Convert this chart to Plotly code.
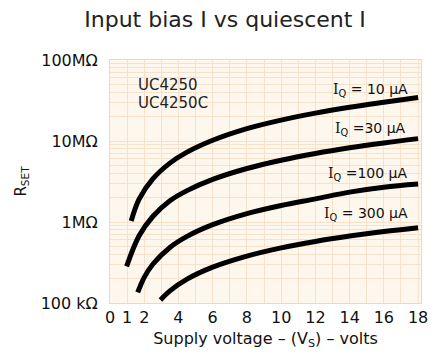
import math
import plotly.graph_objects as go

# Supply voltage (V) and R_SET (ohms) along each quiescent-current curve
v_10ua = [1.24, 1.7, 2.5, 3.5, 4.5, 6, 8, 10, 12, 14, 16, 18]
r_10ua = [1.03e6, 1.91e6, 3.40e6, 5.33e6, 7.28e6, 10.2e6, 14.2e6, 18.1e6, 22.1e6, 26.1e6, 30.1e6, 34.4e6]

v_30ua = [0.97, 1.7, 2.5, 3.5, 4.5, 6, 8, 10, 12, 14, 16, 18]
r_30ua = [283e3, 676e3, 1.17e6, 1.83e6, 2.44e6, 3.36e6, 4.58e6, 5.79e6, 7.01e6, 8.24e6, 9.46e6, 10.7e6]

v_100ua = [1.62, 2, 2.5, 3.5, 4.5, 6, 8, 10, 12, 14, 16, 18]
r_100ua = [135e3, 207e3, 301e3, 485e3, 664e3, 927e3, 1.27e6, 1.60e6, 1.93e6, 2.34e6, 2.69e6, 2.94e6]

v_300ua = [2.95, 3.5, 4.5, 6, 8, 10, 12, 14, 16, 18]
r_300ua = [109e3, 141e3, 197e3, 277e3, 379e3, 479e3, 575e3, 670e3, 764e3, 851e3]

serif_i = "<span style='font-family:DejaVu Serif'>I</span><sub>Q</sub>"
curve_labels = [serif_i + " = 10 µA", serif_i + " =30 µA", serif_i + " =100 µA", serif_i + " = 300 µA"]
label_v = [17.53, 17.43, 17.5, 17.5]
label_r = [42.7e6, 14.2e6, 3.92e6, 1.25e6]

part_lines = ["UC4250", "UC4250C"]
part_r = [49.5e6, 29.5e6]

x_ticks = [0, 1, 2, 4, 6, 8, 10, 12, 14, 16, 18]
y_ticks = [1e5, 1e6, 1e7, 1e8]
y_tick_text = ["100 kΩ", "1MΩ", "10MΩ", "100MΩ"]

series = [(v_10ua, r_10ua), (v_30ua, r_30ua), (v_100ua, r_100ua), (v_300ua, r_300ua)]

label_font = "DejaVu Sans"
grid_col = "#f6e2cb"

fig = go.Figure()
for (vs, rs) in series:
    fig.add_trace(go.Scatter(
        x=vs, y=rs, mode="lines",
        line=dict(color="black", width=5, shape="spline", smoothing=1.0),
        showlegend=False, hoverinfo="skip",
    ))

# annotation positions on a log axis are given in log10 units
for text, v, r in zip(curve_labels, label_v, label_r):
    fig.add_annotation(x=v, y=math.log10(r), xref="x", yref="y", text=text, showarrow=False,
                       xanchor="right", yanchor="middle",
                       font=dict(family=label_font, size=14, color="#111"))

for text, r in zip(part_lines, part_r):
    fig.add_annotation(x=1.5, y=math.log10(r), xref="x", yref="y",
                       text=text, showarrow=False, xanchor="left", yanchor="middle",
                       font=dict(family=label_font, size=15, color="#222"))

fig.update_layout(
    width=437, height=354,
    margin=dict(l=110, r=9, t=60, b=51),
    paper_bgcolor="white",
    plot_bgcolor="#fdf7ee",
    title=dict(text="Input bias I vs quiescent I", x=0.515, xanchor="center",
               y=0.945, yanchor="middle",
               font=dict(family="DejaVu Sans", size=22, color="#222")),
    font=dict(family=label_font, color="#111"),
)

fig.update_xaxes(
    range=[0, 18.17], tickvals=x_ticks, ticktext=[str(t) for t in x_ticks],
    showgrid=True, gridcolor=grid_col, gridwidth=1, zeroline=False,
    minor=dict(dtick=1, showgrid=True, gridcolor=grid_col),
    tickfont=dict(family=label_font, size=16, color="#111"),
    ticks="", showline=True, linecolor="#f2d7b8", mirror=True,
    title=dict(text="Supply voltage – (V<sub>S</sub>) – volts", standoff=6,
               font=dict(family=label_font, size=16, color="#111")),
)

fig.update_yaxes(
    type="log", range=[5, 8], tickvals=y_ticks, ticktext=y_tick_text,
    showgrid=True, gridcolor=grid_col, gridwidth=1, zeroline=False,
    minor=dict(dtick="D1", showgrid=True, gridcolor=grid_col),
    tickfont=dict(family=label_font, size=16, color="#111"),
    ticks="", ticklabelstandoff=8, showline=True, linecolor="#f2d7b8", mirror=True,
    title=dict(text="R<sub>SET</sub>", standoff=10,
               font=dict(family=label_font, size=15, color="#111")),
)

fig.write_html("out.html")
